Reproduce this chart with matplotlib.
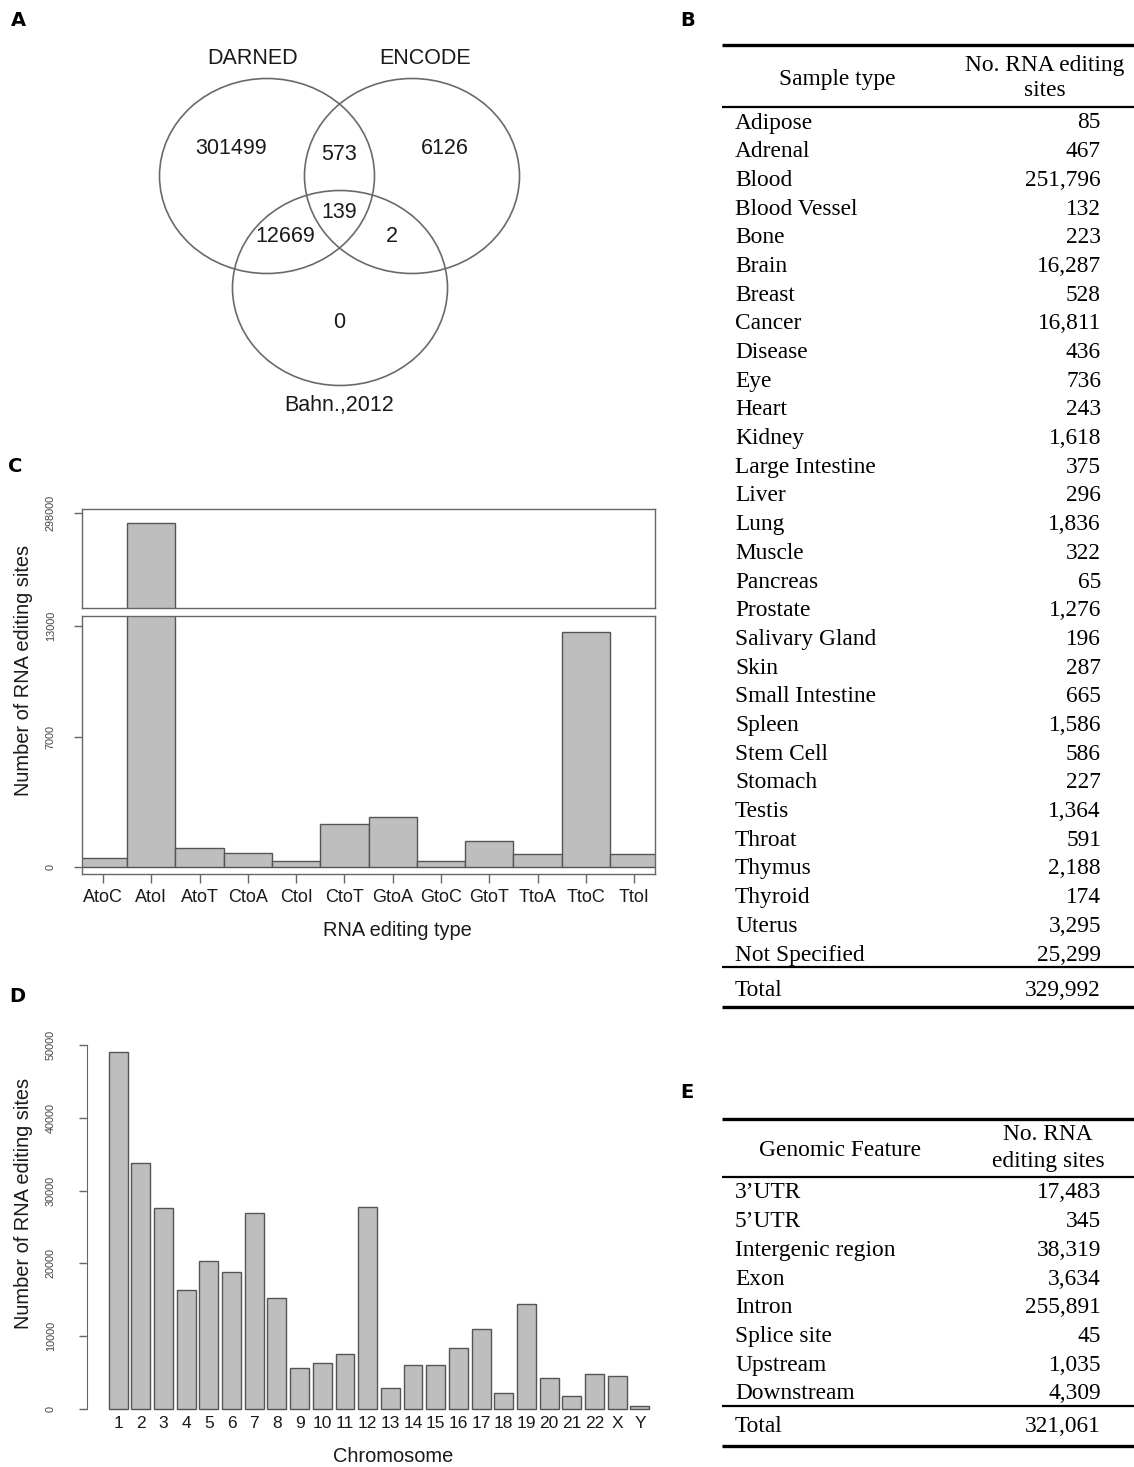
import matplotlib
matplotlib.use("Agg")
import matplotlib.pyplot as plt
from matplotlib.patches import Ellipse

# ---------------- data ----------------
venn_set_names = ["DARNED", "ENCODE", "Bahn.,2012"]
venn_regions = ["DARNED only", "DARNED&ENCODE", "ENCODE only", "all three",
                "DARNED&Bahn", "ENCODE&Bahn", "Bahn only"]
venn_counts = [301499, 573, 6126, 139, 12669, 2, 0]

edit_types = ["AtoC", "AtoI", "AtoT", "CtoA", "CtoI", "CtoT",
              "GtoA", "GtoC", "GtoT", "TtoA", "TtoC", "TtoI"]
edit_counts = [500, 295000, 1040, 740, 340, 2340, 2700, 340, 1400, 680, 12700, 680]

chromosomes = ["1", "2", "3", "4", "5", "6", "7", "8", "9", "10", "11", "12",
               "13", "14", "15", "16", "17", "18", "19", "20", "21", "22", "X", "Y"]
chrom_counts = [49100, 33800, 27600, 16300, 20300, 18800, 26900, 15200, 5700, 6300,
                7600, 27800, 2900, 6000, 6000, 8400, 11000, 2200, 14400, 4300,
                1800, 4800, 4600, 400]

sample_types = ["Adipose", "Adrenal", "Blood", "Blood Vessel", "Bone", "Brain", "Breast",
                "Cancer", "Disease", "Eye", "Heart", "Kidney", "Large Intestine", "Liver",
                "Lung", "Muscle", "Pancreas", "Prostate", "Salivary Gland", "Skin",
                "Small Intestine", "Spleen", "Stem Cell", "Stomach", "Testis", "Throat",
                "Thymus", "Thyroid", "Uterus", "Not Specified"]
sample_counts = [85, 467, 251796, 132, 223, 16287, 528, 16811, 436, 736, 243, 1618, 375,
                 296, 1836, 322, 65, 1276, 196, 287, 665, 1586, 586, 227, 1364, 591,
                 2188, 174, 3295, 25299]
sample_total = 329992

features = ["3\u2019UTR", "5\u2019UTR", "Intergenic region", "Exon", "Intron",
            "Splice site", "Upstream", "Downstream"]
feature_counts = [17483, 345, 38319, 3634, 255891, 45, 1035, 4309]
feature_total = 321061

# ---------------- figure ----------------
W, H = 1134, 1467
fig = plt.figure(figsize=(W / 100, H / 100), dpi=100)
SANS = ["Liberation Sans", "DejaVu Sans"]
SERIF = ["Liberation Serif", "DejaVu Serif"]
BOLD = ["DejaVu Sans"]
BAR_FC = "#bebebe"
BAR_EC = "#555555"
AX_C = "#666666"
TXT = "#1a1a1a"


def fax(x0, y0, x1, y1):
    """axes from pixel box (top-left origin)"""
    return fig.add_axes([x0 / W, 1 - y1 / H, (x1 - x0) / W, (y1 - y0) / H])


# overlay in pixel coordinates
ov = fig.add_axes([0, 0, 1, 1], zorder=5)
ov.set_xlim(0, W)
ov.set_ylim(H, 0)
ov.axis("off")
ov.patch.set_alpha(0)

# panel letters
for lab, x, y in [("A", 18, 21), ("B", 688, 21), ("C", 15, 466), ("D", 17, 997), ("E", 687, 1093)]:
    ov.text(x, y, lab, fontsize=14, fontweight="bold", family=BOLD, ha="center", va="center")

# ---------------- A: Venn ----------------
circles = [(267, 176), (412, 176), (340, 288)]
for cx, cy in circles:
    ov.add_patch(Ellipse((cx, cy), 215, 195, fill=False, ec="#6a6a6a", lw=1.2))
set_label_pos = [(253, 58), (425, 58), (339, 405)]
for name, (x, y) in zip(venn_set_names, set_label_pos):
    ov.text(x, y, name, fontsize=15.5, family=SANS, ha="center", va="center", color=TXT)
region_pos = [(231, 149), (339, 155), (445, 149), (339, 213), (285, 237), (392, 237), (339, 323)]
for cnt, (x, y) in zip(venn_counts, region_pos):
    ov.text(x, y, str(cnt), fontsize=15.5, family=SANS, ha="center", va="center", color=TXT)

# ---------------- C: broken bar chart ----------------
xC = list(range(len(edit_types)))
axU = fax(81.6, 509, 655, 608)
axL = fax(81.6, 616, 655, 874)
for ax in (axU, axL):
    ax.bar(xC, edit_counts, width=1.0, color=BAR_FC, edgecolor=BAR_EC, lw=1.0)
    ax.set_xlim(-0.443, 11.43)
    for s in ax.spines.values():
        s.set_color(AX_C)
        s.set_linewidth(1.0)
axU.set_ylim(269500, 299200)
axU.set_yticks([298000])
axU.set_xticks([])
axL.set_ylim(-378, 13539)
axL.set_yticks([0, 7000, 13000])
axL.set_xticks(xC)
axL.set_xticklabels(edit_types, fontsize=13, family=SANS, color=TXT)
axL.tick_params(axis="x", length=6.5, width=1, color=AX_C, pad=4)
for ax in (axU, axL):
    ax.tick_params(axis="y", length=5.5, width=1, color=AX_C, pad=13)
    for t in ax.get_yticklabels():
        t.set_rotation(90)
        t.set_va("center")
        t.set_fontsize(7.8)
        t.set_family(SANS)
        t.set_color("#444444")
ov.text(24, 670, "Number of RNA editing sites", rotation=90, fontsize=14.4, family=SANS,
        ha="center", va="center", color=TXT)
ov.text(397, 930, "RNA editing type", fontsize=14.4, family=SANS, ha="center", va="center",
        color=TXT)

# ---------------- D: chromosome bar chart ----------------
xD = list(range(len(chromosomes)))
axD = fax(87, 1040, 671, 1412)
axD.bar(xD, chrom_counts, width=0.833, color=BAR_FC, edgecolor=BAR_EC, lw=1.0)
axD.set_xlim(-1.37, 24.37)
axD.set_ylim(-412, 50687)
for k in ["top", "right", "bottom"]:
    axD.spines[k].set_visible(False)
axD.spines["left"].set_bounds(0, 50000)
axD.spines["left"].set_color(AX_C)
axD.set_yticks([0, 10000, 20000, 30000, 40000, 50000])
axD.tick_params(axis="y", length=5.5, width=1, color=AX_C, pad=17)
for t in axD.get_yticklabels():
    t.set_rotation(90)
    t.set_va("center")
    t.set_fontsize(7.8)
    t.set_family(SANS)
    t.set_color("#444444")
axD.set_xticks(xD)
axD.set_xticklabels(chromosomes, fontsize=12.5, family=SANS, color=TXT)
axD.tick_params(axis="x", length=0, pad=3)
ov.text(24, 1203, "Number of RNA editing sites", rotation=90, fontsize=14.4, family=SANS,
        ha="center", va="center", color=TXT)
ov.text(393, 1457, "Chromosome", fontsize=14.4, family=SANS, ha="center", va="center",
        color=TXT)

# ---------------- tables ----------------
TFS = 16.8
LX, RX = 735, 1101
RULE_X0, RULE_X1 = 722, 1134


def rule(y, lw):
    ov.plot([RULE_X0, RULE_X1], [y, y], color="black", lw=lw, solid_capstyle="butt")


# B
rule(45, 2.4)
ov.text(837, 80, "Sample type", fontsize=TFS, family=SERIF, ha="center", va="center")
ov.text(1045, 65, "No. RNA editing", fontsize=TFS, family=SERIF, ha="center", va="center")
ov.text(1045, 90, "sites", fontsize=TFS, family=SERIF, ha="center", va="center")
rule(107, 1.6)
y0, dy = 123, 28.69
for i, (name, v) in enumerate(zip(sample_types, sample_counts)):
    y = y0 + i * dy
    ov.text(LX, y, name, fontsize=TFS, family=SERIF, ha="left", va="center")
    ov.text(RX, y, f"{v:,}", fontsize=TFS, family=SERIF, ha="right", va="center")
rule(967, 1.6)
ov.text(LX, 990, "Total", fontsize=TFS, family=SERIF, ha="left", va="center")
ov.text(RX, 990, f"{sample_total:,}", fontsize=TFS, family=SERIF, ha="right", va="center")
rule(1007, 2.4)

# E
rule(1119, 2.4)
ov.text(840, 1150, "Genomic Feature", fontsize=TFS, family=SERIF, ha="center", va="center")
ov.text(1048, 1135, "No. RNA", fontsize=TFS, family=SERIF, ha="center", va="center")
ov.text(1048, 1162, "editing sites", fontsize=TFS, family=SERIF, ha="center", va="center")
rule(1177, 1.6)
y0 = 1193
for i, (name, v) in enumerate(zip(features, feature_counts)):
    y = y0 + i * dy
    ov.text(LX, y, name, fontsize=TFS, family=SERIF, ha="left", va="center")
    ov.text(RX, y, f"{v:,}", fontsize=TFS, family=SERIF, ha="right", va="center")
rule(1406, 1.6)
ov.text(LX, 1427, "Total", fontsize=TFS, family=SERIF, ha="left", va="center")
ov.text(RX, 1427, f"{feature_total:,}", fontsize=TFS, family=SERIF, ha="right", va="center")
rule(1446, 2.4)

fig.savefig("out.png", dpi=100)
